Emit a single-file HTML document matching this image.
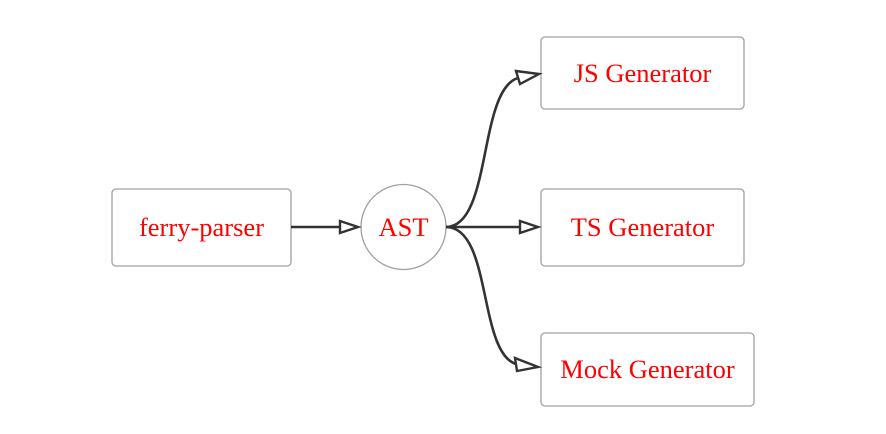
<!DOCTYPE html>
<html><head><style>html,body{margin:0;padding:0;background:#fff;}svg{display:block}</style></head>
<body>
<svg width="886" height="434" viewBox="0 0 886 434" xmlns="http://www.w3.org/2000/svg">
<g fill="#fff" stroke="#a0a0a0" stroke-width="1.3">
<rect x="112" y="189" width="179" height="77" rx="4"/>
<circle cx="403.5" cy="227" r="42.5"/>
<rect x="541" y="37" width="203" height="72" rx="4"/>
<rect x="541" y="189" width="203" height="77" rx="4"/>
<rect x="541" y="333" width="213" height="73" rx="4"/>
</g>
<g fill="none" stroke="#333" stroke-width="2.6">
<path d="M291,227 H340"/>
<path d="M446,227 H520"/>
<path d="M446,227 C492,227 478,90 518,78"/>
<path d="M446,227 C492,227 478,352 516,364"/>
</g>
<g fill="#fff" stroke="#333" stroke-width="2.4" stroke-linejoin="miter">
<path d="M340,221 L358,227 L340,233 Z"/>
<path d="M520,221 L538,227 L520,233 Z"/>
<path d="M516,71 L539,74 L520,84 Z"/>
<path d="M515,358 L538,367 L517,371 Z"/>
</g>
<g fill="#ff0000" font-family="Liberation Serif, serif" font-size="26.5" text-anchor="middle">
<text x="201.5" y="236">ferry-parser</text>
<text x="403.5" y="236">AST</text>
<text x="642.5" y="82">JS Generator</text>
<text x="642.5" y="236">TS Generator</text>
<text x="647.5" y="378">Mock Generator</text>
</g>
</svg>
</body></html>
